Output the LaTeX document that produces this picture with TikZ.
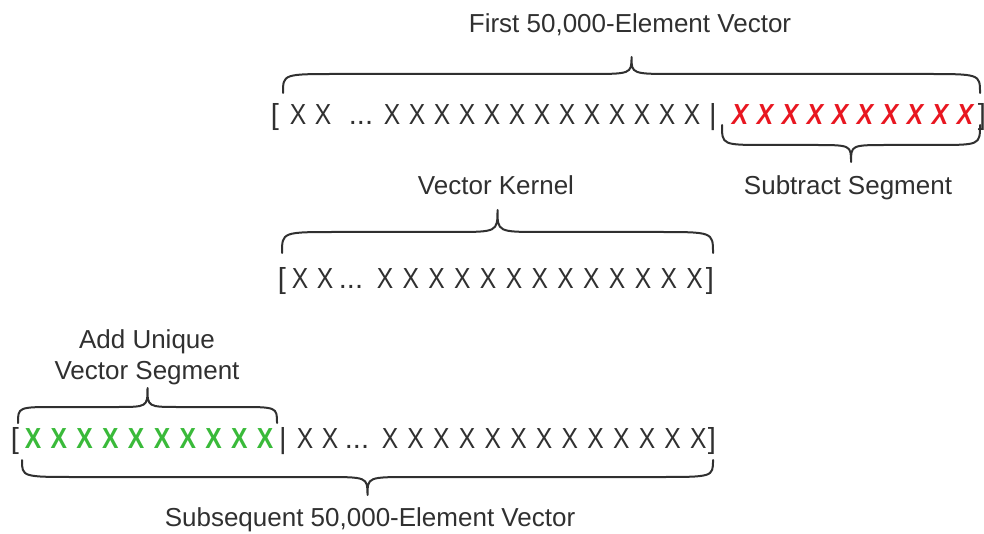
\documentclass[tikz,border=0pt]{standalone}
\usepackage{fontspec}
\setmainfont{Liberation Sans}
\definecolor{ink}{RGB}{48,48,48}
\definecolor{xred}{RGB}{232,22,32}
\definecolor{xgreen}{RGB}{58,186,58}
% horizontal curly brace: x1, x2, end y, line y, tip y, end curve width, tip curve width
\newcommand\hcurly[7]{%
  \draw[brc] (#1,#3) .. controls (#1,#4) .. ({#1+#6},#4)
    -- ({(#1+#2)/2-#7},#4) .. controls ({(#1+#2)/2},#4) .. ({(#1+#2)/2},#5)
    .. controls ({(#1+#2)/2},#4) .. ({(#1+#2)/2+#7},#4)
    -- ({#2-#6},#4) .. controls (#2,#4) .. (#2,#3);}
\newcommand\xg{\scalebox{0.85}[1]{X}}
\begin{document}
\begin{tikzpicture}[x=1pt,y=-1pt,
  lbl/.style={font=\fontsize{26}{30}\selectfont, text=ink, inner sep=0pt, anchor=base},
  xch/.style={font=\fontsize{29}{32}\selectfont, text=ink, inner sep=0pt, anchor=base},
  xsub/.style={xch, text=xred, font=\fontsize{29}{32}\selectfont\bfseries\itshape},
  xadd/.style={xch, text=xgreen, font=\fontsize{29}{32}\selectfont\bfseries},
  brc/.style={draw=ink, line width=2pt, line cap=round, line join=round}]
\useasboundingbox (0,0) rectangle (984,534);

% labels
\node[lbl] (title) at (630,33) {First 50,000-Element Vector};
\node[lbl] (sublbl) at (848,195) {Subtract Segment};
\node[lbl] (kerlbl) at (496,195) {Vector Kernel};
\node[lbl] (addlbl1) at (147,348) {Add Unique};
\node[lbl] (addlbl2) at (147,379) {Vector Segment};
\node[lbl] (seqlbl) at (370,526) {Subsequent 50,000-Element Vector};

% first vector
\node[xch] (fopen) at (275,125) {[};
\node[xch] (fa) at (298,125) {\xg};
\node[xch] (fb) at (323,125) {\xg};
\node[xch] (fdots) at (361,125) {...};
\foreach \i in {0,...,12} \node[xch] (f\i) at ({392+25*\i},125) {\xg};
\node[xch] (fbar) at (713,125) {|};
\foreach \i in {0,...,9} \node[xsub] (s\i) at ({740+25*\i},125) {\xg};
\node[xch] (fclose) at (982,125) {]};

% vector kernel
\node[xch] (kopen) at (282,288) {[};
\node[xch] (ka) at (300,288) {\xg};
\node[xch] (kb) at (325,288) {\xg};
\node[xch] (kdots) at (351,288) {...};
\foreach \i in {0,...,12} \node[xch] (k\i) at ({385+25.8*\i},288) {\xg};
\node[xch] (kclose) at (710,288) {]};

% subsequent vector
\node[xch] (nopen) at (15,448) {[};
\foreach \i in {0,...,9} \node[xadd] (g\i) at ({33+25.8*\i},448) {\xg};
\node[xch] (nbar) at (283,448) {|};
\node[xch] (na) at (305,448) {\xg};
\node[xch] (nb) at (330,448) {\xg};
\node[xch] (ndots) at (357,448) {...};
\foreach \i in {0,...,12} \node[xch] (n\i) at ({390+25.7*\i},448) {\xg};
\node[xch] (nclose) at (712,448) {]};

% braces
\hcurly{283}{980}{93}{74}{57}{55}{45}
\hcurly{722}{980}{125}{145}{162}{45}{38}
\hcurly{282}{713}{253}{232}{210}{55}{45}
\hcurly{18}{277}{423}{407}{388}{40}{32}
\hcurly{22}{713}{460}{477}{495}{55}{45}
\end{tikzpicture}
\end{document}
